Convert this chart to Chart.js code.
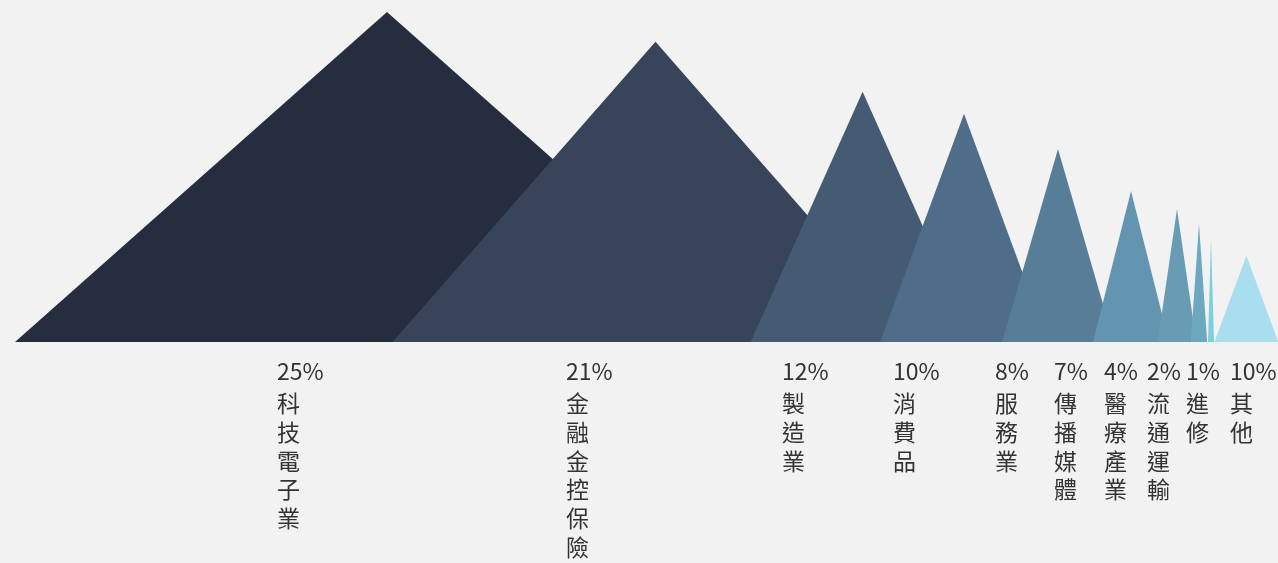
<!DOCTYPE html>
<html lang="zh-Hant">
<head>
  <meta charset="UTF-8">
  <title>產業分布</title>
  <style>
    body, html {
      margin: 0;
      height: 100%;
      background: #f2f2f2;
      overflow: hidden;
    }
    .chart-box {
      width: 1278px;
      height: 563px;
    }
  </style>
</head>
<body>
  <div class="chart-box">
    <canvas id="mountainChart"></canvas>
  </div>

  <script src="https://cdn.jsdelivr.net/npm/chart.js"></script>
  <script>
    // values
    const categories = ['科技電子業', '金融金控保險', '製造業', '消費品', '服務業', '傳播媒體', '醫療產業', '流通運輸', '進修', '其他'];
    const percents = ['25%', '21%', '12%', '10%', '8%', '7%', '4%', '2%', '1%', '10%'];
    const peakX = [387, 655.5, 862.6, 964, 1058, 1131, 1177, 1199, 1211, 1246.4];
    const halfWidth = [372, 263, 112, 84, 56, 38, 19.3, 8.2, 3, 32];
    const heights = [330, 300.3, 250.3, 228.3, 193, 151, 133, 118, 103, 86.3];
    const labelX = [277, 566, 782, 893, 995, 1054, 1104, 1147, 1186, 1230];
    const colors = ['#262d3f', '#374459', '#455b74', '#4f6d89', '#587d99', '#6495b0', '#689cb4', '#6ea8bf', '#7dcfd9', '#a8deed'];

    const labelFont = { family: '"Noto Sans CJK TC", "Noto Sans", sans-serif', size: 23, lineHeight: 1.25 };

    const datasets = categories.map(function(name, i) {
      return {
        label: name,
        data: [
          { x: peakX[i] - halfWidth[i], y: 0 },
          { x: peakX[i], y: heights[i] },
          { x: peakX[i] + halfWidth[i], y: 0 }
        ],
        backgroundColor: colors[i],
        borderWidth: 0,
        pointRadius: 0,
        tension: 0,
        fill: 'origin',
        order: categories.length - i // later peaks sit on top
      };
    });

    // shared bits for the two label rows under the baseline
    function labelAxis(weight, height, padding, callback) {
      return {
        type: 'linear',
        position: 'bottom',
        weight: weight,
        min: 0,
        max: 1278,
        border: { display: false },
        grid: { display: false, drawTicks: false },
        afterBuildTicks: function(scale) {
          scale.ticks = labelX.map(v => ({ value: v }));
        },
        afterFit: function(scale) {
          scale.height = height;
          // labels hang to the right, don't let them squeeze the plot
          scale.paddingLeft = 0;
          scale.paddingRight = 0;
        },
        ticks: {
          autoSkip: false,
          maxRotation: 0,
          align: 'start',
          padding: padding,
          color: '#333333',
          font: labelFont,
          callback: callback
        }
      };
    }

    new Chart(document.getElementById('mountainChart'), {
      type: 'line',
      data: { datasets: datasets },
      options: {
        responsive: true,
        maintainAspectRatio: false,
        animation: false,
        layout: { padding: { top: 12, left: 0, right: 0, bottom: 0 } },
        plugins: {
          legend: { display: false },
          tooltip: { enabled: false }
        },
        scales: {
          x: labelAxis(0, 42, 15, function(value, index) {
            return percents[index];
          }),
          xNames: labelAxis(1, 179, 5, function(value, index) {
            return Array.from(categories[index]);
          }),
          y: {
            display: false,
            min: 0,
            max: 330
          }
        }
      }
    });
  </script>
</body>
</html>
